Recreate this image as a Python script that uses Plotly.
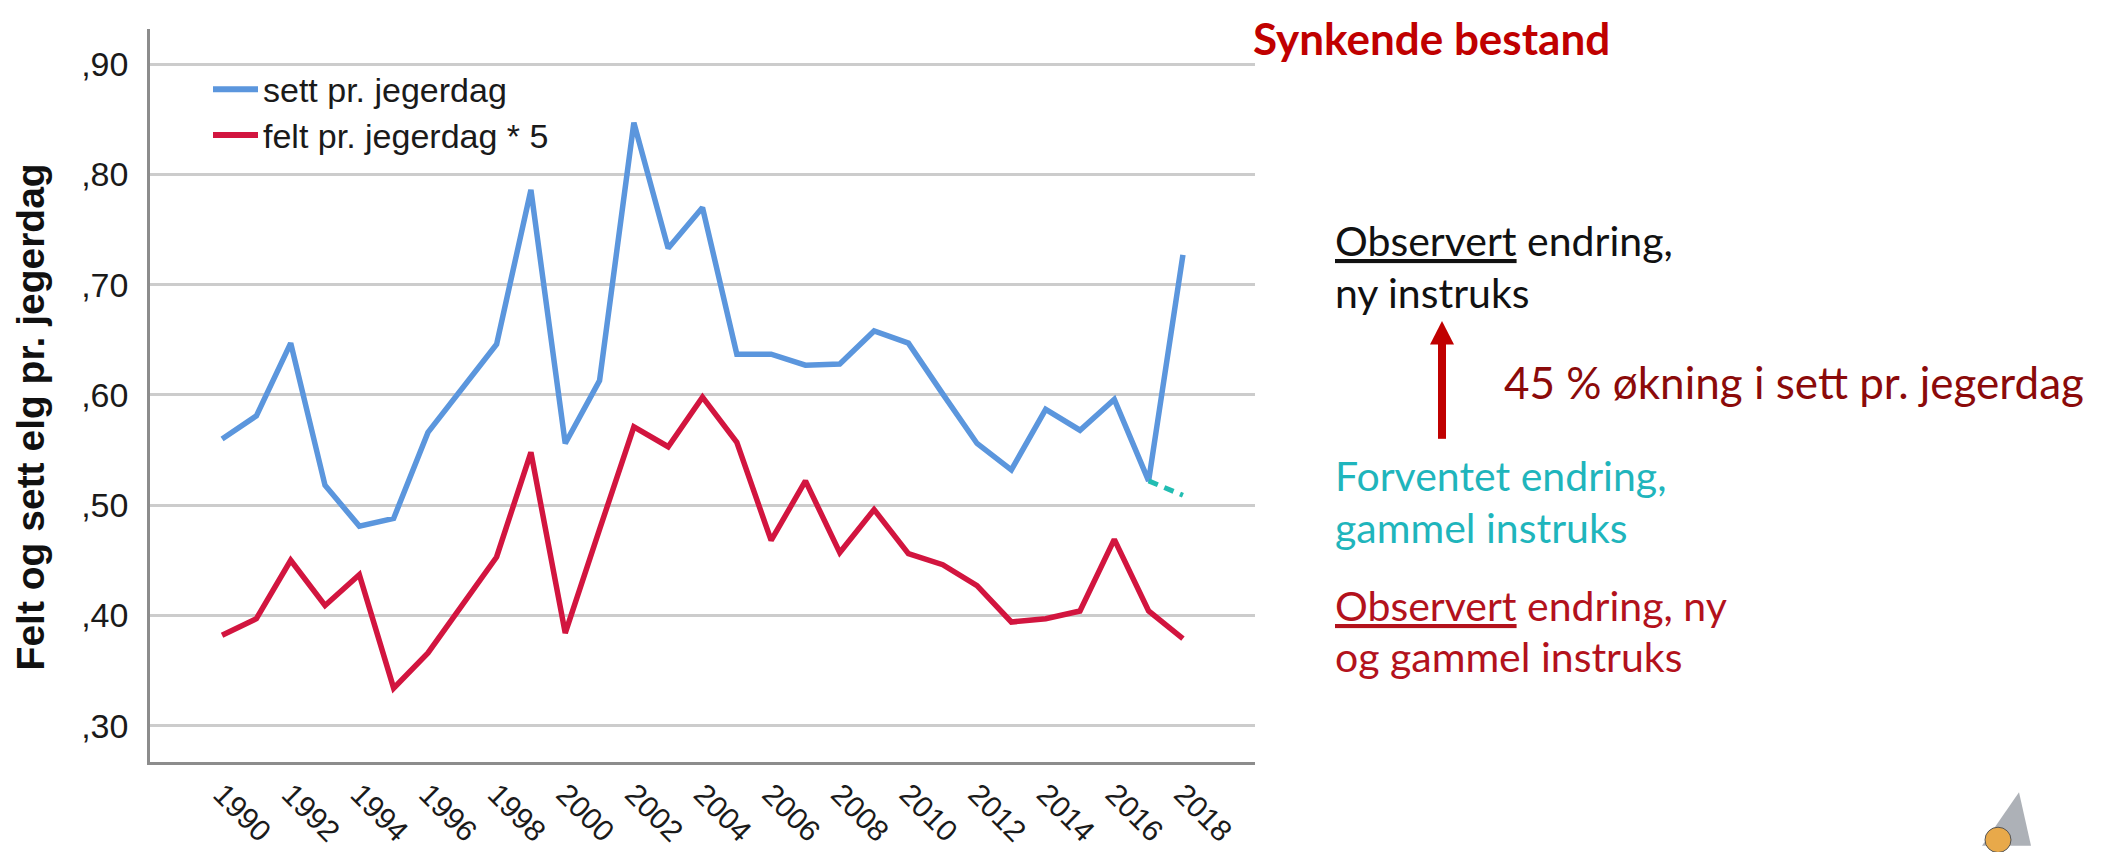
import plotly.graph_objects as go

# ---------------- data ----------------
years = list(range(1990, 2019))
sett_pr_jegerdag = [0.560, 0.581, 0.647, 0.518, 0.481, 0.488, 0.566, 0.605, 0.646, 0.786,
                    0.556, 0.613, 0.847, 0.733, 0.770, 0.637, 0.637, 0.627, 0.628, 0.658,
                    0.647, 0.601, 0.556, 0.532, 0.587, 0.568, 0.596, 0.522, 0.727]
felt_pr_jegerdag_x5 = [0.382, 0.397, 0.450, 0.409, 0.437, 0.334, 0.366, 0.410, 0.453, 0.548,
                       0.384, 0.478, 0.571, 0.553, 0.598, 0.557, 0.468, 0.522, 0.457, 0.496,
                       0.456, 0.446, 0.427, 0.394, 0.397, 0.404, 0.469, 0.404, 0.379]
forventet_years = [2017, 2018]
forventet_values = [0.522, 0.509]

x_tick_vals = list(range(1990, 2019, 2))
x_tick_text = [str(y) for y in x_tick_vals]
y_tick_vals = [0.30, 0.40, 0.50, 0.60, 0.70, 0.80, 0.90]
y_tick_text = [",30", ",40", ",50", ",60", ",70", ",80", ",90"]

legend_names = ["sett pr. jegerdag", "felt pr. jegerdag * 5"]
y_title = "Felt og sett elg pr. jegerdag"

# ---------------- styling ----------------
W, H = 2108, 852
L, R, T, B = 142, 1247, 21, 774   # plot area in pixels
BLUE = "#5B96DD"
RED = "#D2153F"
TEAL = "#22BDB2"


def px(x):
    return (x - L) / (R - L)


def py(y):
    return (B - y) / (B - T)


fig = go.Figure()
fig.add_trace(go.Scatter(x=years, y=sett_pr_jegerdag, mode="lines",
                         line=dict(color=BLUE, width=5.5), name=legend_names[0],
                         showlegend=False))
fig.add_trace(go.Scatter(x=years, y=felt_pr_jegerdag_x5, mode="lines",
                         line=dict(color=RED, width=5.5), name=legend_names[1],
                         showlegend=False))
fig.add_trace(go.Scatter(x=forventet_years, y=forventet_values, mode="lines",
                         line=dict(color=TEAL, width=5, dash="10px,7px"),
                         showlegend=False))

shapes = []
annotations = []

# legend (manual)
for i, (name, col) in enumerate(zip(legend_names, [BLUE, RED])):
    yy = 83 + i * 47
    shapes.append(dict(type="line", xref="paper", yref="paper",
                       x0=px(205), x1=px(250), y0=py(yy), y1=py(yy),
                       line=dict(color=col, width=6)))
    annotations.append(dict(xref="paper", yref="paper", x=px(253), y=py(yy + 1),
                            text=name, showarrow=False, xanchor="left", yanchor="middle",
                            font=dict(family="Liberation Sans, Arial", size=34, color="#1a1a1a")))

# y-axis title
annotations.append(dict(xref="paper", yref="paper", x=px(22), y=py(420), text="<b>" + y_title + "</b>",
                        showarrow=False, textangle=-90, xanchor="center", yanchor="middle",
                        font=dict(family="Liberation Sans, Arial", size=39, color="#111111")))

# right-hand texts
TXT = "Lato, Carlito, Calibri, sans-serif"
right_texts = [
    ("<b>Synkende bestand</b>", 1243, 30, 44, "#C00000"),
    ("<u>Observert</u> endring,", 1325, 238, 41, "#111111"),
    ("ny instruks", 1325, 292, 41, "#111111"),
    ("45 % økning i sett pr. jegerdag", 1494, 384, 44, "#8B0A0A"),
    ("Forventet endring,", 1325, 480, 41, "#1FB5BC"),
    ("gammel instruks", 1325, 533, 41, "#1FB5BC"),
    ("<u>Observert</u> endring, ny", 1325, 613, 41, "#B3121C"),
    ("og gammel instruks", 1325, 666, 41, "#B3121C"),
]
for text, x, y, size, col in right_texts:
    annotations.append(dict(xref="paper", yref="paper", x=px(x), y=py(y), text=text,
                            showarrow=False, xanchor="left", yanchor="middle",
                            font=dict(family=TXT, size=size, color=col)))

# arrow
shapes.append(dict(type="line", xref="paper", yref="paper",
                   x0=px(1434), x1=px(1434), y0=py(442), y1=py(343),
                   line=dict(color="#C00000", width=8)))
shapes.append(dict(type="path", xref="paper", yref="paper",
                   path=f"M{px(1422)},{py(345)} L{px(1446)},{py(345)} L{px(1434)},{py(321)} Z",
                   fillcolor="#C00000", line=dict(width=0)))

# corner logo decoration
shapes.append(dict(type="path", xref="paper", yref="paper",
                   path=f"M{px(2011)},{py(805)} L{px(1974)},{py(860)} L{px(2023)},{py(860)} Z",
                   fillcolor="#ADB1B7", line=dict(width=0)))
shapes.append(dict(type="circle", xref="paper", yref="paper",
                   x0=px(1977), x1=px(2003), y0=py(841), y1=py(867),
                   fillcolor="#E8A94A", line=dict(color="#555555", width=1)))

fig.update_layout(
    width=W, height=H,
    margin=dict(l=L, r=W - R, t=T, b=H - B, pad=0),
    paper_bgcolor="white", plot_bgcolor="white",
    showlegend=False,
    shapes=shapes,
    annotations=annotations,
    xaxis=dict(range=[1987.9, 2020.1], tickmode="array", tickvals=x_tick_vals,
               ticktext=x_tick_text, tickangle=45, showgrid=False, zeroline=False,
               showline=True, linecolor="#8c8c8c", linewidth=2.5, ticks="",
               tickfont=dict(family="Liberation Sans, Arial", size=30, color="#1a1a1a")),
    yaxis=dict(range=[0.267, 0.932], tickmode="array", tickvals=y_tick_vals,
               ticktext=y_tick_text, showgrid=True, gridcolor="#cccccc", gridwidth=2.5,
               zeroline=False, showline=True, linecolor="#8c8c8c", linewidth=2.5, ticks="",
               ticklabelstandoff=12,
               tickfont=dict(family="Liberation Sans, Arial", size=34, color="#1a1a1a")),
)

fig.write_html("out.html")
